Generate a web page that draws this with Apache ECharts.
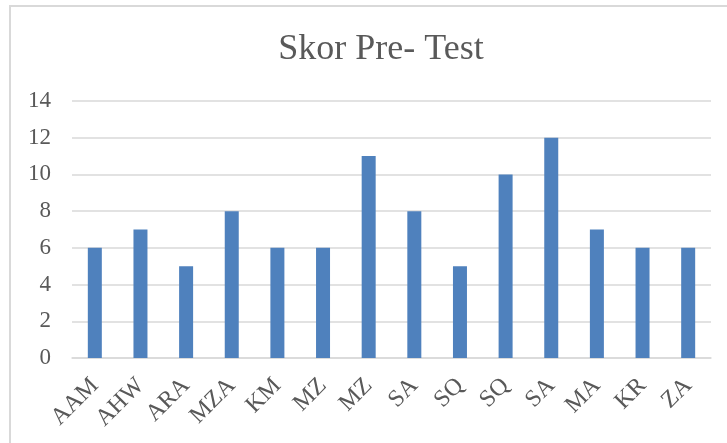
<!DOCTYPE html>
<html>
<head>
<meta charset="utf-8">
<script src="https://cdn.jsdelivr.net/npm/echarts@6/dist/echarts.min.js"></script>
<style>
    html, body { margin: 0; padding: 0; background: #fff; }
    #chart { width: 727px; height: 443px; }
</style>
</head>
<body>
<div id="chart"></div>
<script>
    var names = ['AAM', 'AHW', 'ARA', 'MZA', 'KM', 'MZ', 'MZ', 'SA', 'SQ', 'SQ', 'SA', 'MA', 'KR', 'ZA'];
    var scores = [6, 7, 5, 8, 6, 6, 11, 8, 5, 10, 12, 7, 6, 6];
    var yTicks = [0, 2, 4, 6, 8, 10, 12, 14];

    var serif = '"Liberation Serif", "Times New Roman", serif';
    var textGray = '#595959';
    var lineGray = '#d9d9d9';

    var myChart = echarts.init(document.getElementById('chart'));
    myChart.setOption({
        animation: false,
        backgroundColor: '#fff',
        title: {
            text: 'Skor Pre- Test',
            left: 376,
            textAlign: 'center',
            top: 27,
            textStyle: { fontFamily: serif, fontSize: 36, fontWeight: 'normal', color: textGray }
        },
        // chart frame, only left and top edges are inside the picture
        graphic: [{
            type: 'rect',
            shape: { x: 10, y: 6, width: 800, height: 500 },
            style: { fill: 'none', stroke: lineGray, lineWidth: 2 },
            silent: true
        }],
        grid: { left: 72, right: 16, top: 101, bottom: 85, outerBoundsMode: 'none' },
        xAxis: {
            type: 'category',
            // index keys so the repeated names (MZ, SA, SQ) stay separate bars
            data: names.map(function (n, i) { return i; }),
            axisLine: { lineStyle: { color: lineGray, width: 1.5 } },
            axisTick: { show: false },
            axisLabel: {
                interval: 0,
                rotate: 45,
                margin: 24,
                fontFamily: serif,
                fontSize: 24,
                color: textGray,
                formatter: function (v) { return names[v]; }
            }
        },
        yAxis: {
            type: 'value',
            min: yTicks[0],
            max: yTicks[yTicks.length - 1],
            interval: 2,
            axisLine: { show: false },
            axisTick: { show: false },
            splitLine: { lineStyle: { color: lineGray, width: 1.5 } },
            axisLabel: { margin: 21, fontFamily: serif, fontSize: 23, color: textGray }
        },
        series: [{
            type: 'bar',
            data: scores,
            barWidth: 14,
            itemStyle: { color: '#4f81bd' }
        }]
    });
</script>
</body>
</html>
